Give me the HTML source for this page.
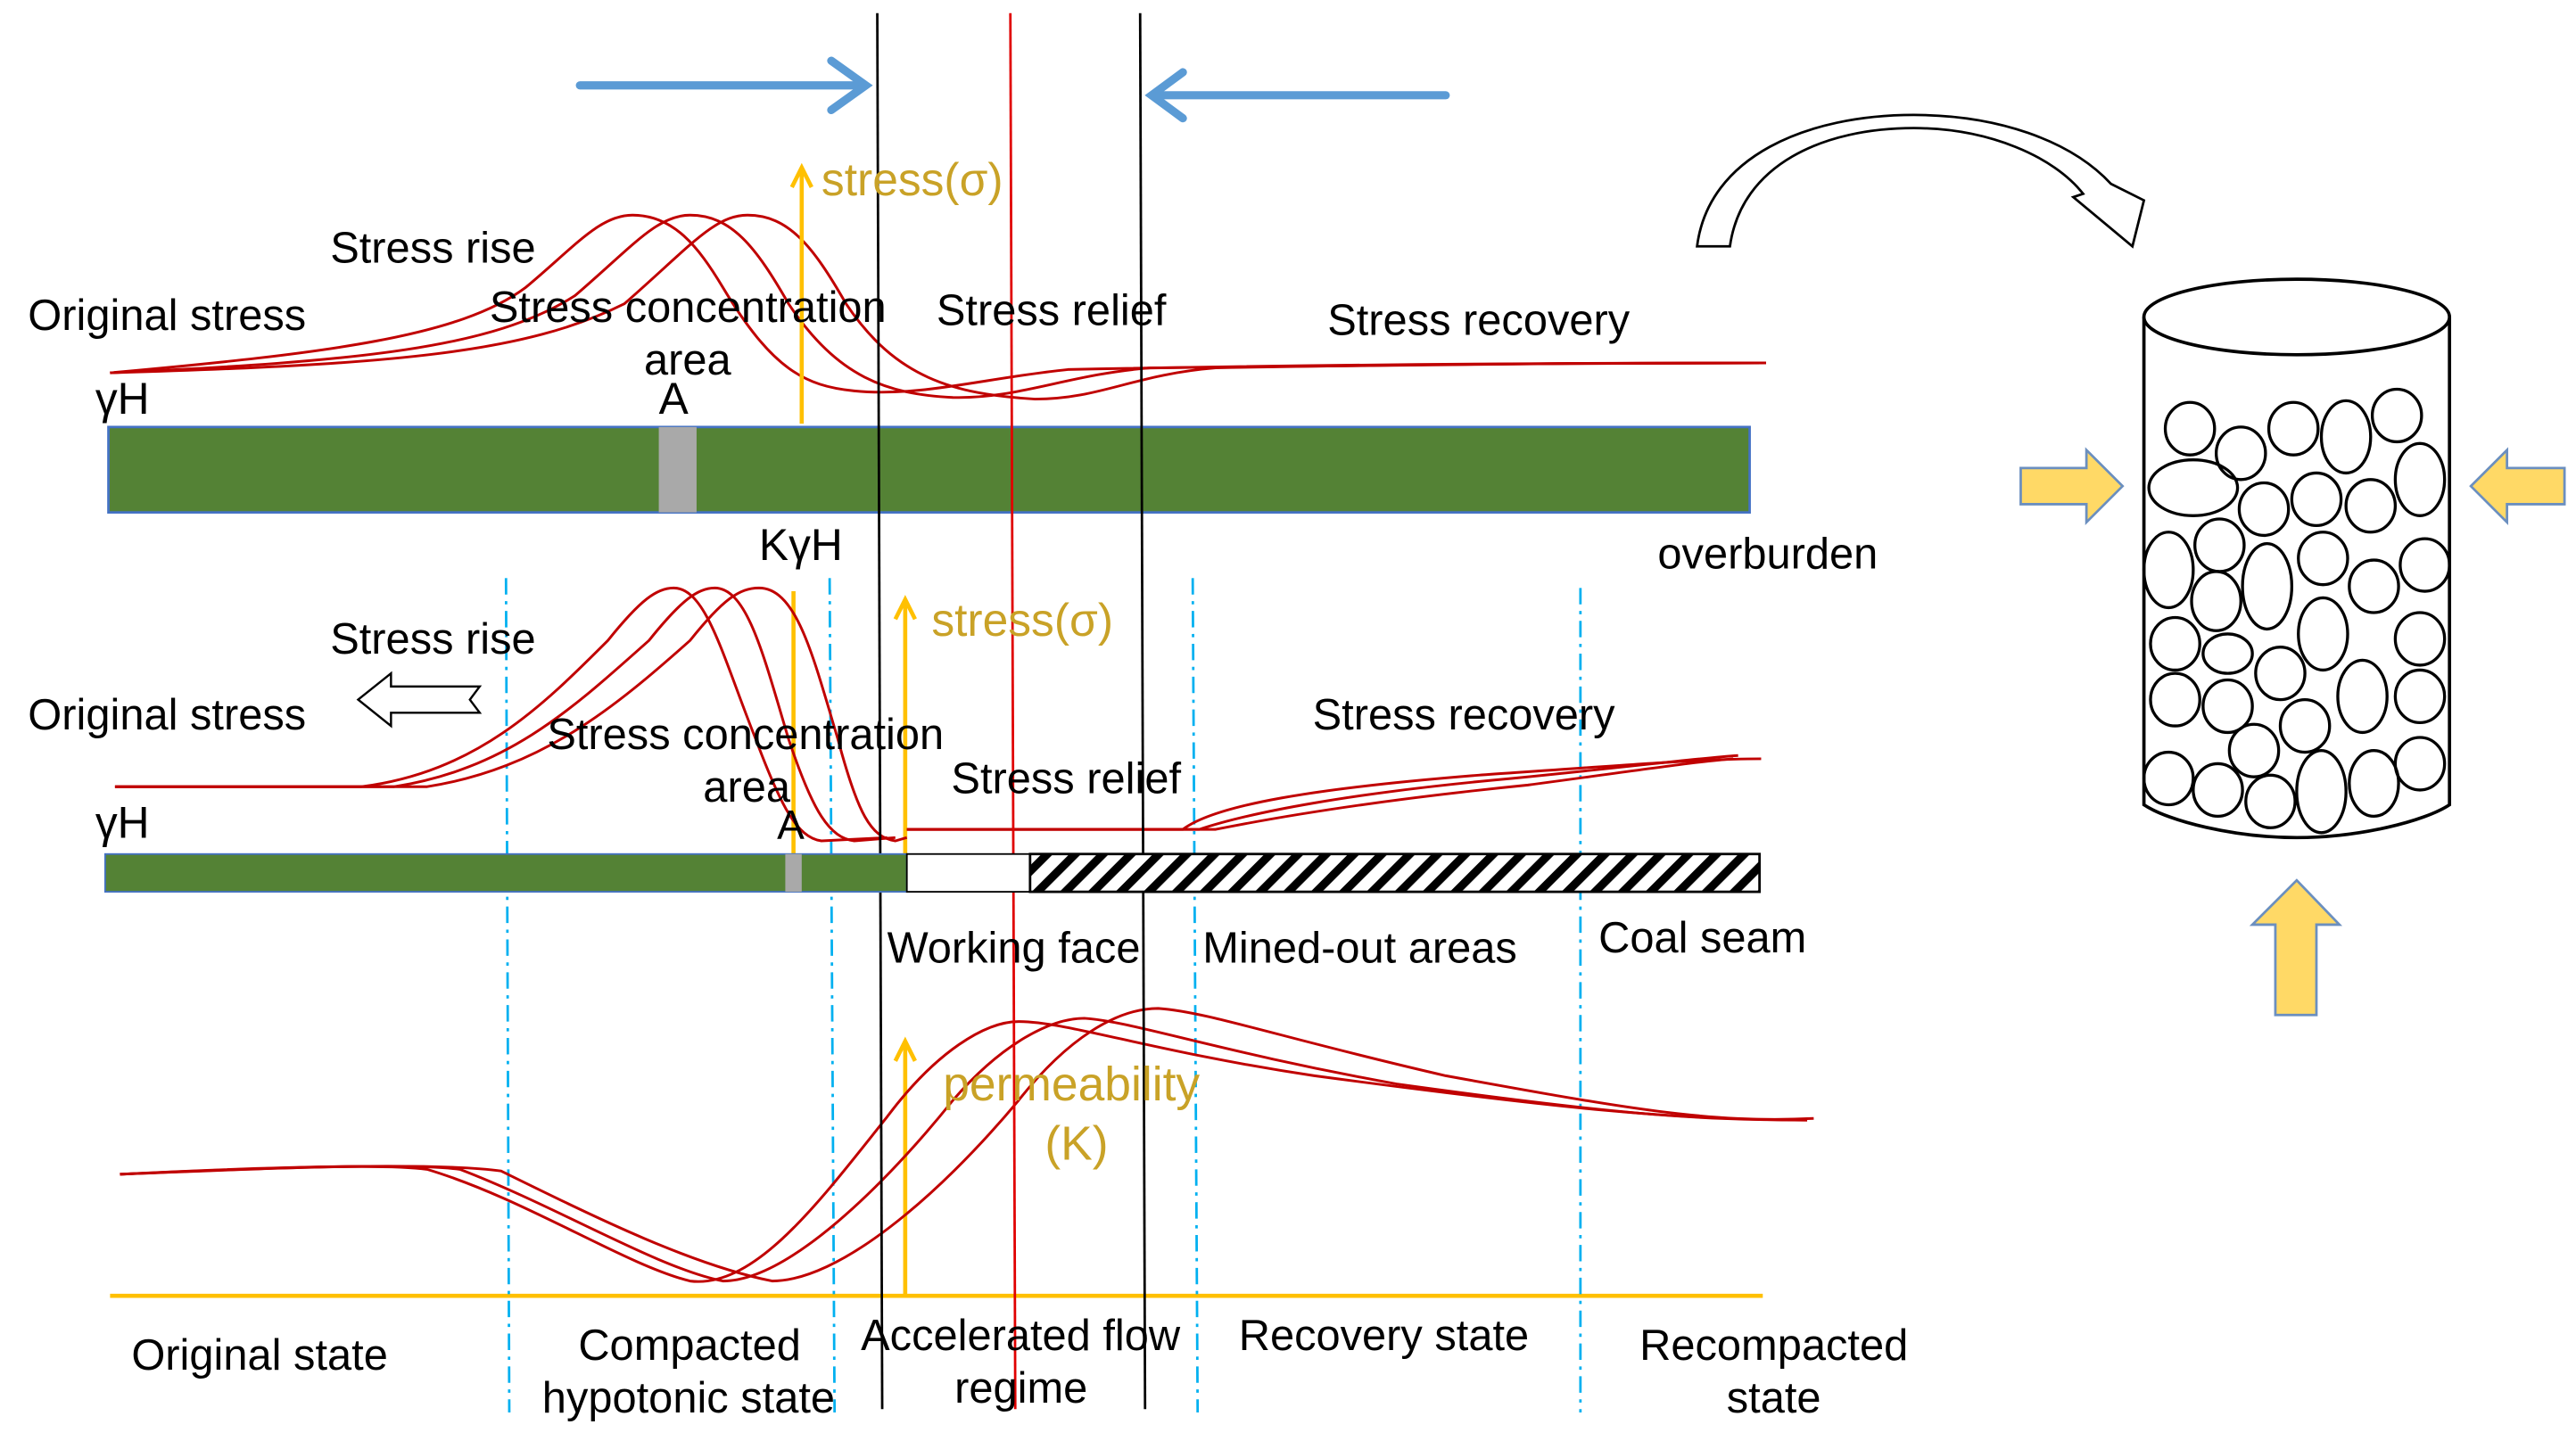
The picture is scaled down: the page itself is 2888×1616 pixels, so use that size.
<!DOCTYPE html>
<html><head><meta charset="utf-8"><style>html,body{margin:0;padding:0;background:#fff}svg{display:block}</style></head>
<body>
<svg width="2888" height="1616" viewBox="0 0 1568 877.4" preserveAspectRatio="none" xmlns="http://www.w3.org/2000/svg" font-family="Liberation Sans, sans-serif">
<rect width="1568" height="878" fill="#fff"/>
<g stroke="#5b9bd5" stroke-width="5" fill="none" stroke-linecap="round">
<line x1="353" y1="52" x2="526" y2="52"/><polyline points="506,37 527,52 506,67"/>
<line x1="880" y1="58" x2="702" y2="58"/><polyline points="720,44 701,58 720,72"/>
</g>
<g stroke="#c00000" stroke-width="1.6" fill="none">
<path d="M67,227 C200,215 280,205 320,175 C350,150 365,131 385,131 C410,131 425,150 440,175 C470,225 490,235 520,238 C560,242 600,230 650,225 C800,222 950,221 1075,221"/>
<path d="M67,227 C220,220 300,212 350,180 C385,150 400,131 420,131 C445,131 460,150 480,185 C510,230 540,240 580,242 C620,243 650,228 700,224 C850,222 950,221 1075,221"/>
<path d="M67,227 C240,222 320,215 380,185 C420,150 435,131 455,131 C480,131 495,150 515,185 C545,230 580,240 630,243 C670,243 690,228 740,224 C850,222 950,221 1075,221"/>
</g>
<rect x="66" y="260" width="999" height="52" fill="#548235" stroke="#4472c4" stroke-width="1.5"/>
<rect x="401" y="260" width="23" height="52" fill="#a9a9a9"/>
<g stroke="#ffc000" stroke-width="2.5" fill="none">
<line x1="488" y1="258" x2="488" y2="104"/><polyline points="482,114 488,102 494,114"/>
<line x1="483" y1="520" x2="483" y2="360"/>
<line x1="551" y1="520" x2="551" y2="367"/><polyline points="545,377 551,365 557,377"/>
<line x1="551" y1="789" x2="551" y2="636"/><polyline points="545,646 551,634 557,646"/>
<line x1="67" y1="789" x2="1073" y2="789"/>
</g>
<g stroke="#00b0f0" stroke-width="1.5" stroke-dasharray="10,4,2,4" fill="none">
<line x1="308" y1="352" x2="310" y2="860"/>
<line x1="505" y1="352" x2="508" y2="860"/>
<line x1="726" y1="352" x2="729" y2="860"/>
<line x1="962" y1="358" x2="962" y2="860"/>
</g>
<g stroke="#c00000" stroke-width="1.6" fill="none">
<path d="M70,479 L220,479 C290,470 330,430 370,390 C390,365 400,358 410,358 C430,358 440,400 460,450 C475,490 485,510 500,512 L540,510"/>
<path d="M70,479 L240,479 C310,468 350,430 395,390 C415,365 425,358 435,358 C455,358 465,400 480,450 C495,495 505,510 520,512 L545,510"/>
<path d="M70,479 L260,479 C330,468 375,430 420,390 C440,365 450,358 462,358 C485,358 495,400 510,450 C522,495 530,510 545,512 L552,510"/>
<path d="M552,505 L720,505 C740,490 800,480 900,472 C1000,465 1040,462 1072,462"/>
<path d="M552,505 L730,505 C760,495 820,483 920,474 C1000,466 1030,462 1058,460"/>
<path d="M552,505 L740,505 C780,497 840,487 930,478 C990,470 1030,464 1055,462"/>
</g>
<g stroke="#c00000" stroke-width="1.6" fill="none">
<path d="M73,715 C150,712 230,708 260,712 C320,730 380,770 420,780 C460,785 500,730 540,680 C570,640 600,622 620,622 C650,622 700,640 800,655 C950,675 1020,682 1100,682"/>
<path d="M73,715 C160,711 250,708 280,712 C340,735 400,772 440,780 C480,780 540,720 580,670 C610,635 640,620 660,620 C690,622 740,640 850,660 C980,678 1030,682 1100,682"/>
<path d="M73,715 C170,710 270,708 305,713 C360,740 420,770 470,780 C510,780 570,730 620,670 C650,632 680,614 705,614 C735,616 780,632 880,655 C990,675 1040,684 1104,681"/>
</g>
<line x1="534" y1="8" x2="537" y2="858" stroke="#000" stroke-width="1.5"/>
<line x1="694" y1="8" x2="697" y2="858" stroke="#000" stroke-width="1.5"/>
<line x1="615" y1="8" x2="618" y2="858" stroke="#e00000" stroke-width="1.5"/>
<defs><pattern id="h" width="12" height="12" patternUnits="userSpaceOnUse" patternTransform="rotate(45)"><rect width="12" height="12" fill="#fff"/><rect width="5" height="12" fill="#000"/></pattern></defs>
<rect x="64" y="520" width="488" height="23" fill="#548235" stroke="#4472c4" stroke-width="1"/>
<rect x="478" y="520" width="10" height="23" fill="#a9a9a9"/>
<rect x="552" y="520" width="75" height="23" fill="#fff" stroke="#000" stroke-width="1"/>
<rect x="627" y="520" width="444" height="23" fill="url(#h)" stroke="#000" stroke-width="1.5"/>
<path d="M218,426 L238,410 L238,418 L292,418 L286,426 L292,434 L238,434 L238,442 Z" fill="#fff" stroke="#000" stroke-width="1.3"/>
<g font-size="26.5" fill="#000">
<text x="201" y="160">Stress rise</text>
<text x="17" y="201">Original stress</text>
<text x="298" y="196">Stress concentration</text>
<text x="392" y="228">area</text>
<text x="570" y="198">Stress relief</text>
<text x="808" y="204">Stress recovery</text>
<text x="58" y="252" font-size="27">γH</text>
<text x="401" y="252" font-size="27">A</text>
<text x="1009" y="346">overburden</text>
<text x="462" y="341" font-size="27">KγH</text>
<text x="201" y="398">Stress rise</text>
<text x="17" y="444">Original stress</text>
<text x="333" y="456">Stress concentration</text>
<text x="428" y="488">area</text>
<text x="579" y="483">Stress relief</text>
<text x="799" y="444">Stress recovery</text>
<text x="58" y="510" font-size="27">γH</text>
<text x="473" y="511" font-size="25">A</text>
<text x="540" y="586">Working face</text>
<text x="732" y="586">Mined-out areas</text>
<text x="973" y="580">Coal seam</text>
<text x="80" y="834">Original state</text>
<text x="352" y="828">Compacted</text>
<text x="330" y="860">hypotonic state</text>
<text x="524" y="822">Accelerated flow</text>
<text x="581" y="854">regime</text>
<text x="754" y="822">Recovery state</text>
<text x="998" y="828">Recompacted</text>
<text x="1051" y="860">state</text>
</g>
<g font-size="28" fill="#c9a227">
<text x="500" y="119">stress(σ)</text>
<text x="567" y="387">stress(σ)</text>
<text x="574" y="670" font-size="29">permeability</text>
<text x="636" y="706" font-size="29">(K)</text>
</g>
<path d="M1033,150 L1053,150 C1060,100 1110,78 1165,78 C1210,78 1250,95 1268,118 L1262,120 L1298,150 L1305,122 L1285,112 C1260,85 1215,70 1165,70 C1100,70 1040,95 1033,150 Z" fill="#fff" stroke="#000" stroke-width="1.5"/>
<g stroke="#000" stroke-width="2" fill="none">
<path d="M1305,193 L1305,490 C1320,500 1360,510 1398,510 C1436,510 1476,500 1491,490 L1491,193"/>
<ellipse cx="1398" cy="193" rx="93" ry="23" fill="#fff"/>
</g>
<g stroke="#000" stroke-width="1.8" fill="none">
<ellipse cx="1333" cy="261" rx="15" ry="16"/><ellipse cx="1364" cy="276" rx="15" ry="16"/>
<ellipse cx="1396" cy="261" rx="15" ry="16"/><ellipse cx="1428" cy="266" rx="15" ry="22"/>
<ellipse cx="1459" cy="253" rx="15" ry="16"/><ellipse cx="1473" cy="292" rx="15" ry="22"/>
<ellipse cx="1335" cy="297" rx="27" ry="17"/><ellipse cx="1378" cy="310" rx="15" ry="16"/>
<ellipse cx="1410" cy="304" rx="15" ry="16"/><ellipse cx="1443" cy="308" rx="15" ry="16"/>
<ellipse cx="1320" cy="347" rx="15" ry="23"/><ellipse cx="1351" cy="332" rx="15" ry="16"/>
<ellipse cx="1380" cy="357" rx="15" ry="26"/><ellipse cx="1414" cy="340" rx="15" ry="16"/>
<ellipse cx="1445" cy="357" rx="15" ry="16"/><ellipse cx="1476" cy="344" rx="15" ry="16"/>
<ellipse cx="1349" cy="366" rx="15" ry="18"/><ellipse cx="1414" cy="386" rx="15" ry="22"/>
<ellipse cx="1324" cy="392" rx="15" ry="16"/><ellipse cx="1356" cy="398" rx="15" ry="12"/>
<ellipse cx="1388" cy="410" rx="15" ry="16"/><ellipse cx="1473" cy="389" rx="15" ry="16"/>
<ellipse cx="1324" cy="426" rx="15" ry="16"/><ellipse cx="1356" cy="430" rx="15" ry="16"/>
<ellipse cx="1403" cy="442" rx="15" ry="16"/><ellipse cx="1438" cy="424" rx="15" ry="22"/>
<ellipse cx="1473" cy="424" rx="15" ry="16"/><ellipse cx="1372" cy="457" rx="15" ry="16"/>
<ellipse cx="1320" cy="474" rx="15" ry="16"/><ellipse cx="1350" cy="481" rx="15" ry="16"/>
<ellipse cx="1382" cy="488" rx="15" ry="16"/><ellipse cx="1413" cy="482" rx="15" ry="25"/>
<ellipse cx="1445" cy="477" rx="15" ry="20"/><ellipse cx="1473" cy="465" rx="15" ry="16"/>
</g>
<g fill="#ffd966" stroke="#6b8fbf" stroke-width="1.5">
<path d="M1230,285 L1270,285 L1270,274 L1292,296 L1270,318 L1270,307 L1230,307 Z"/>
<path d="M1561,285 L1526,285 L1526,274 L1504,296 L1526,318 L1526,307 L1561,307 Z"/>
<path d="M1385,618 L1385,563 L1371,563 L1398,536 L1424,563 L1410,563 L1410,618 Z"/>
</g>
</svg>
</body></html>
